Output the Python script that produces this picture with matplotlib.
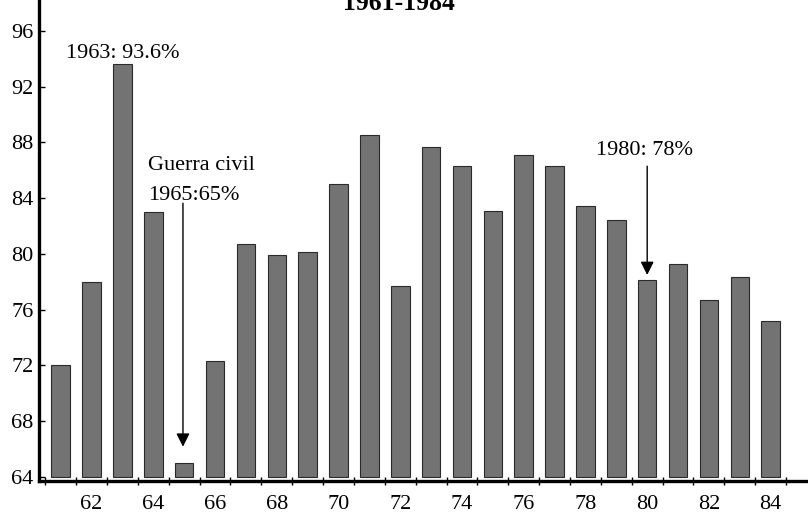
import matplotlib
matplotlib.use("Agg")
import matplotlib.pyplot as plt
import numpy as np

years = list(range(1961, 1985))
values = [72.0, 78.0, 93.6, 83.0, 65.0, 72.3, 80.7, 79.9, 80.1, 85.0, 88.5, 77.7,
          87.7, 86.3, 83.1, 87.1, 86.3, 83.4, 82.4, 78.1, 79.3, 76.7, 78.3, 75.2]
y_ticks = [64, 68, 72, 76, 80, 84, 88, 92, 96]
x_label_years = list(range(1962, 1985, 2))
x_tick_labels = [str(y % 100) for y in x_label_years]
title = "1961-1984"

plt.rcParams['font.family'] = ['Liberation Serif', 'DejaVu Serif']

fig = plt.figure(figsize=(8.08, 5.16), dpi=100)
ax = fig.add_axes([39/808, 1 - 481/516, 1 - 39/808, 481/516])

base = 64
ax.bar(years, [v - base for v in values], bottom=base, width=0.6,
       color='#737373', edgecolor='#2a2a2a', linewidth=0.8, zorder=2)

ax.set_xlim(1960.296, 1985.21)
ax.set_ylim(63.69, 98.22)

for s in ['top', 'right']:
    ax.spines[s].set_visible(False)
ax.spines['left'].set_linewidth(2.4)
ax.spines['bottom'].set_linewidth(2.4)

ax.set_yticks(y_ticks)
ax.set_yticklabels([str(t) for t in y_ticks])
ax.tick_params(axis='y', direction='in', length=4, width=1, labelsize=16, pad=4)

ax.set_xticks(x_label_years)
ax.set_xticklabels(x_tick_labels)
ax.set_xticks([y - 0.5 for y in years] + [years[-1] + 0.5], minor=True)
ax.tick_params(axis='x', which='major', length=0, labelsize=16, pad=10)
ax.tick_params(axis='x', which='minor', direction='inout', length=6, width=1)

fig.text(399/808, 1 - 10/516, title, ha='center', va='baseline',
         fontsize=18.5, fontweight='bold')

ax.text(1963, 94.05, "1963: 93.6%", ha='center', va='baseline', fontsize=16)

ax.text(1963.82, 86.02, "Guerra civil", ha='left', va='baseline', fontsize=16)
ax.text(1963.82, 83.85, "1965:65%", ha='left', va='baseline', fontsize=16)
arrow_style = dict(arrowstyle='-|>,head_length=0.8,head_width=0.4',
                   color='black', lw=1, shrinkA=0, shrinkB=0)
ax.annotate("", xy=(1964.96, 66.15), xytext=(1964.96, 83.63), arrowprops=arrow_style)

ax.text(1979.92, 87.09, "1980: 78%", ha='center', va='baseline', fontsize=16)
ax.annotate("", xy=(1980, 78.48), xytext=(1980, 86.29), arrowprops=arrow_style)

fig.savefig("out.png", dpi=100)
